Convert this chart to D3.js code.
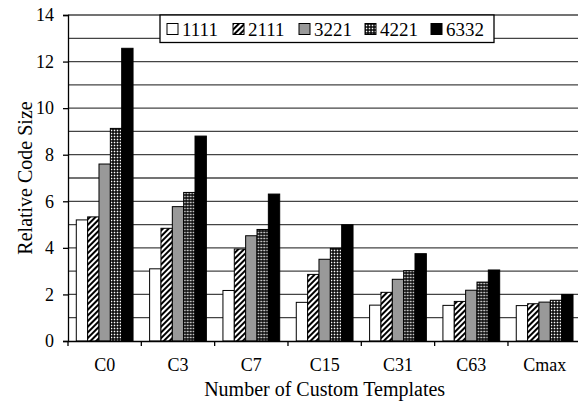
<!DOCTYPE html>
<html>
<head>
<meta charset="utf-8">
<script src="https://cdn.jsdelivr.net/npm/d3@7/dist/d3.min.js"></script>
<style>
  html, body { margin: 0; padding: 0; background: #fff; }
  svg { display: block; }
  text { font-family: "Liberation Serif", "Times New Roman", serif; fill: #000; }
</style>
</head>
<body>
<svg id="chart" width="578" height="406"></svg>
<script>
const categories = ["C0", "C3", "C7", "C15", "C31", "C63", "Cmax"];
const seriesNames = ["1111", "2111", "3221", "4221", "6332"];
const s1111 = [5.2, 3.1, 2.17, 1.66, 1.54, 1.53, 1.52];
const s2111 = [5.33, 4.84, 3.95, 2.86, 2.09, 1.70, 1.60];
const s3221 = [7.6, 5.77, 4.52, 3.51, 2.65, 2.18, 1.67];
const s4221 = [9.13, 6.38, 4.79, 3.98, 3.02, 2.53, 1.75];
const s6332 = [12.57, 8.8, 6.31, 4.99, 3.75, 3.05, 2.0];
const yTicks = [0, 2, 4, 6, 8, 10, 12, 14];
const yGrid = d3.range(1, 15);

const seriesValues = [s1111, s2111, s3221, s4221, s6332];

const svg = d3.select("#chart");
const plot = { left: 68, right: 581.3, top: 15, bottom: 341 };

// patterns
const defs = svg.append("defs");
const hatch = defs.append("pattern").attr("id", "hatch")
  .attr("patternUnits", "userSpaceOnUse").attr("width", 4).attr("height", 4)
  .attr("patternTransform", "rotate(45)");
hatch.append("rect").attr("width", 4).attr("height", 4).attr("fill", "#fff");
hatch.append("rect").attr("width", 2).attr("height", 4).attr("fill", "#000");

const grid = defs.append("pattern").attr("id", "grid")
  .attr("patternUnits", "userSpaceOnUse").attr("width", 3).attr("height", 3);
grid.append("rect").attr("width", 3).attr("height", 3).attr("fill", "#000");
grid.append("rect").attr("x", 0.7).attr("y", 0.7).attr("width", 1.6).attr("height", 1.6).attr("fill", "#fff");

const fills = {
  "1111": "#ffffff",
  "2111": "url(#hatch)",
  "3221": "#999999",
  "4221": "url(#grid)",
  "6332": "#000000"
};

const x0 = d3.scaleBand().domain(categories).range([plot.left, plot.right]).padding(0);
const bw = x0.bandwidth();
const x1 = d3.scaleBand().domain(seriesNames).range([bw * 0.113, bw * 0.887]).padding(0);
const y = d3.scaleLinear().domain([0, 14]).range([plot.bottom, plot.top]);

// gridlines
svg.append("g").selectAll("line").data(yGrid).join("line")
  .attr("x1", plot.left).attr("x2", plot.right)
  .attr("y1", d => y(d)).attr("y2", d => y(d))
  .attr("stroke", "#444").attr("stroke-width", 1.3);

// bars
const groups = svg.append("g").selectAll("g").data(categories).join("g")
  .attr("transform", c => `translate(${x0(c)},0)`);
groups.selectAll("rect").data((c, ci) => seriesNames.map((s, si) => ({ s, v: seriesValues[si][ci] })))
  .join("rect")
  .attr("x", d => x1(d.s))
  .attr("width", x1.bandwidth())
  .attr("y", d => y(d.v))
  .attr("height", d => y(0) - y(d.v))
  .attr("fill", d => fills[d.s])
  .attr("stroke", "#000").attr("stroke-width", 1);

// y axis
const yAxis = svg.append("g").attr("transform", `translate(${plot.left},0)`)
  .call(d3.axisLeft(y).tickValues(yTicks).tickSize(5).tickPadding(9));
yAxis.select(".domain").attr("stroke", "#000").attr("stroke-width", 1.3);
yAxis.selectAll(".tick line").attr("stroke", "#000").attr("stroke-width", 1.3);
yAxis.selectAll("text").style("font-family", '"Liberation Serif", serif').style("font-size", "18px");

// x axis
const xAxis = svg.append("g").attr("transform", `translate(0,${plot.bottom})`)
  .call(d3.axisBottom(x0).tickSize(0).tickPadding(17));
xAxis.select(".domain").attr("stroke", "#000").attr("stroke-width", 1.3);
xAxis.selectAll("text").style("font-family", '"Liberation Serif", serif').style("font-size", "18px");
const bounds = categories.map(c => x0(c)).concat([plot.right]);
svg.append("g").selectAll("line").data(bounds).join("line")
  .attr("x1", d => d).attr("x2", d => d)
  .attr("y1", plot.bottom).attr("y2", plot.bottom + 5)
  .attr("stroke", "#000").attr("stroke-width", 1.3);

// axis titles
svg.append("text")
  .attr("transform", `translate(27,${(plot.top + plot.bottom) / 2}) rotate(-90)`)
  .attr("text-anchor", "middle").attr("dominant-baseline", "middle")
  .style("font-size", "20px").text("Relative Code Size");
svg.append("text")
  .attr("x", (plot.left + plot.right) / 2).attr("y", 396)
  .attr("text-anchor", "middle")
  .style("font-size", "20px").text("Number of Custom Templates");

// legend
const leg = svg.append("g");
leg.append("rect").attr("x", 160).attr("y", 15).attr("width", 334).attr("height", 27.5)
  .attr("fill", "#fff").attr("stroke", "#000").attr("stroke-width", 1.3);
const itemX = d3.scalePoint().domain(seriesNames).range([167, 431]);
const items = leg.selectAll("g.item").data(seriesNames).join("g").attr("class", "item")
  .attr("transform", d => `translate(${itemX(d)},0)`);
items.append("rect").attr("x", 0).attr("y", 23.5).attr("width", 11).attr("height", 11)
  .attr("fill", d => fills[d]).attr("stroke", "#000").attr("stroke-width", 1);
items.append("text").attr("x", 15).attr("y", 35.5)
  .style("font-size", "19px").text(d => d);
</script>
</body>
</html>
